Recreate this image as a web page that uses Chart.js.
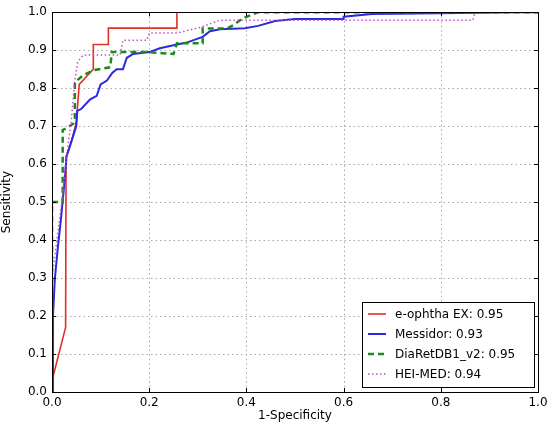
<!DOCTYPE html>
<html><head><meta charset="utf-8">
<script src="https://cdn.jsdelivr.net/npm/chart.js@4/dist/chart.umd.min.js"></script>
<style>html,body{margin:0;padding:0;background:#fff}#wrap{width:548px;height:426px}</style>
</head><body><div id="wrap"><canvas id="c" width="548" height="426"></canvas></div>
<script>
const xTicks = [0, 0.2, 0.4, 0.6, 0.8, 1.0];
const yTicks = [0, 0.1, 0.2, 0.3, 0.4, 0.5, 0.6, 0.7, 0.8, 0.9, 1.0];
const seriesNames = ["e-ophtha EX: 0.95", "Messidor: 0.93", "DiaRetDB1_v2: 0.95", "HEI-MED: 0.94"];

const ophthaX = [0, 0.028, 0.029, 0.04, 0.05, 0.056, 0.085, 0.085, 0.116, 0.116, 0.257, 0.257, 1.0];
const ophthaY = [0.03, 0.17, 0.62, 0.66, 0.71, 0.81, 0.85, 0.915, 0.915, 0.958, 0.958, 1.0, 1.0];

const messidorX = [0, 0.002, 0.006, 0.012, 0.018, 0.024, 0.03, 0.04, 0.05, 0.052, 0.06, 0.078, 0.092, 0.1, 0.113, 0.124, 0.133, 0.146, 0.154, 0.167, 0.2, 0.222, 0.25, 0.277, 0.31, 0.325, 0.346, 0.397, 0.424, 0.459, 0.5, 0.599, 0.6, 0.658, 0.8, 0.95, 1.0];
const messidorY = [0, 0.2, 0.3, 0.38, 0.45, 0.53, 0.62, 0.66, 0.7, 0.74, 0.745, 0.77, 0.78, 0.81, 0.82, 0.84, 0.85, 0.85, 0.88, 0.89, 0.895, 0.905, 0.913, 0.92, 0.935, 0.95, 0.955, 0.958, 0.964, 0.977, 0.982, 0.982, 0.988, 0.995, 0.997, 1.0, 1.0];

const diaretX = [0, 0, 0.022, 0.022, 0.03, 0.044, 0.047, 0.047, 0.064, 0.085, 0.12, 0.123, 0.2, 0.25, 0.257, 0.31, 0.31, 0.36, 0.373, 0.393, 0.424, 1.0];
const diaretY = [0, 0.5, 0.5, 0.69, 0.695, 0.707, 0.72, 0.815, 0.834, 0.847, 0.855, 0.895, 0.895, 0.89, 0.918, 0.918, 0.957, 0.957, 0.966, 0.984, 1.0, 1.0];

const heimedX = [0, 0.01, 0.02, 0.03, 0.04, 0.047, 0.053, 0.064, 0.14, 0.146, 0.195, 0.2, 0.257, 0.305, 0.346, 0.866, 0.87, 1.0];
const heimedY = [0.3, 0.4, 0.5, 0.62, 0.72, 0.82, 0.87, 0.887, 0.887, 0.926, 0.926, 0.945, 0.945, 0.96, 0.979, 0.979, 1.0, 1.0];

function pts(xs, ys){ return xs.map((x,i)=>({x:x, y:ys[i]})); }

const styles = [
  {color:'#e0302a', width:1.6, dash:[]},
  {color:'#2a2ae0', width:2, dash:[]},
  {color:'#1a8a1a', width:2.5, dash:[6,4]},
  {color:'#c050c0', width:1.5, dash:[1.5,2.5]}
];
const allData = [pts(ophthaX,ophthaY), pts(messidorX,messidorY), pts(diaretX,diaretY), pts(heimedX,heimedY)];

const datasets = allData.map((d,i)=>({
  label: seriesNames[i], data: d, borderColor: styles[i].color, backgroundColor: styles[i].color,
  borderWidth: styles[i].width, borderDash: styles[i].dash, pointRadius: 0, tension: 0, fill:false,
  order: 4 - i
}));

const FONT = 'DejaVu Sans';

const gridPlugin = {
  id:'dotgrid',
  beforeDatasetsDraw(chart){
    const {ctx, chartArea:a, scales} = chart;
    ctx.save();
    ctx.strokeStyle='#a8a8a8'; ctx.lineWidth=1; ctx.setLineDash([1.5,3]);
    ctx.beginPath();
    xTicks.forEach(v=>{const px=Math.round(scales.x.getPixelForValue(v))+0.5;
      ctx.moveTo(px,a.top); ctx.lineTo(px,a.bottom);});
    yTicks.forEach(v=>{const py=Math.round(scales.y.getPixelForValue(v))+0.5;
      ctx.moveTo(a.left,py); ctx.lineTo(a.right,py);});
    ctx.stroke();
    ctx.restore();
  }
};

const framePlugin = {
  id:'frame',
  afterDatasetsDraw(chart){
    const {ctx, chartArea:a, scales} = chart;
    ctx.save();
    ctx.strokeStyle='#000'; ctx.lineWidth=1; ctx.setLineDash([]);
    ctx.strokeRect(Math.round(a.left)+0.5, Math.round(a.top)+0.5, Math.round(a.right-a.left), Math.round(a.bottom-a.top));
    ctx.beginPath();
    xTicks.forEach(v=>{const px=Math.round(scales.x.getPixelForValue(v))+0.5;
      ctx.moveTo(px,a.bottom); ctx.lineTo(px,a.bottom-4); ctx.moveTo(px,a.top); ctx.lineTo(px,a.top+4);});
    yTicks.forEach(v=>{const py=Math.round(scales.y.getPixelForValue(v))+0.5;
      ctx.moveTo(a.left,py); ctx.lineTo(a.left+4,py); ctx.moveTo(a.right,py); ctx.lineTo(a.right-4,py);});
    ctx.stroke();
    const lx=362, ly=302, lw=172, lh=85;
    ctx.fillStyle='#fff'; ctx.fillRect(lx,ly,lw,lh);
    ctx.strokeStyle='#000'; ctx.strokeRect(lx+0.5,ly+0.5,lw,lh);
    ctx.font='12px "'+FONT+'"'; ctx.textBaseline='middle'; ctx.textAlign='left';
    chart.data.datasets.forEach((ds,i)=>{
      const y = ly+12+i*20;
      ctx.strokeStyle=ds.borderColor; ctx.lineWidth=ds.borderWidth; ctx.setLineDash(ds.borderDash);
      ctx.beginPath(); ctx.moveTo(lx+6,y); ctx.lineTo(lx+24,y); ctx.stroke();
      ctx.setLineDash([]);
      ctx.fillStyle='#000'; ctx.fillText(ds.label, lx+33, y+1);
    });
    ctx.restore();
  }
};

new Chart(document.getElementById('c'), {
  type:'line',
  data:{datasets},
  options:{
    responsive:false, animation:false,
    layout:{padding:{top:12,right:0,left:0,bottom:0}},
    plugins:{legend:{display:false}, tooltip:{enabled:false}},
    scales:{
      x:{type:'linear', min:0, max:1,
        afterBuildTicks(s){ s.ticks = xTicks.map(v=>({value:v})); },
        afterFit(s){ s.height = 34; s.paddingRight = 10; s.paddingLeft = 0; },
        ticks:{color:'#000', font:{family:FONT,size:12}, padding:4, maxRotation:0, callback:v=>v.toFixed(1)},
        grid:{display:false, drawTicks:false},
        border:{display:false},
        title:{display:true, text:'1-Specificity', color:'#000', font:{family:FONT,size:12}, padding:{top:0,bottom:3}}
      },
      y:{type:'linear', min:0, max:1,
        afterBuildTicks(s){ s.ticks = yTicks.map(v=>({value:v})); },
        afterFit(s){ s.width = 52; },
        ticks:{color:'#000', font:{family:FONT,size:12}, padding:5, callback:v=>v.toFixed(1)},
        grid:{display:false, drawTicks:false},
        border:{display:false},
        title:{display:true, text:'Sensitivity', color:'#000', font:{family:FONT,size:12}, padding:{top:0,bottom:0}}
      }
    }
  },
  plugins:[gridPlugin, framePlugin]
});
</script>
</body></html>
